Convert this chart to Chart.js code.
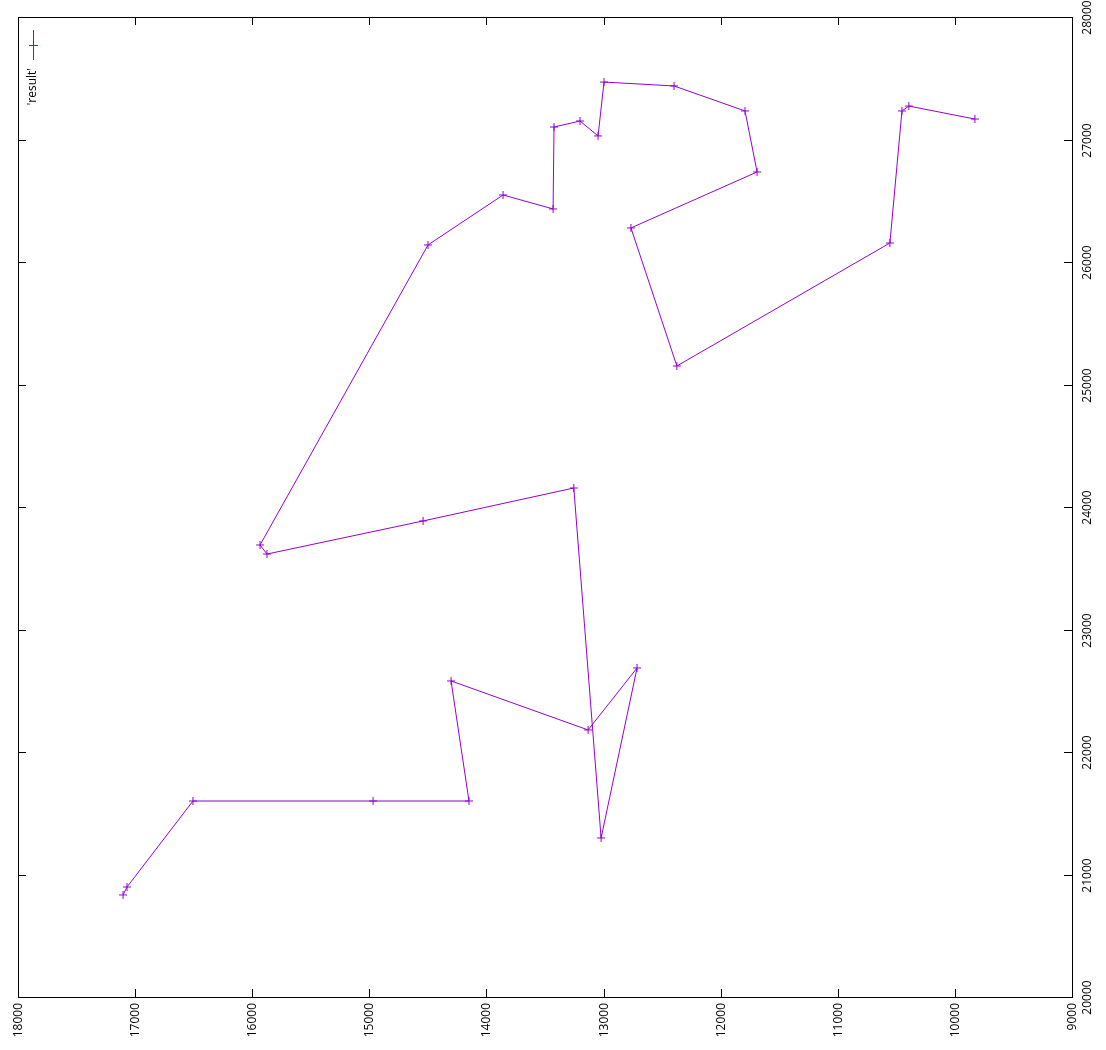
<!DOCTYPE html>
<html>
<head>
<meta charset="utf-8">
<script src="https://cdn.jsdelivr.net/npm/chart.js@4/dist/chart.umd.min.js"></script>
<style>
  html, body { margin: 0; padding: 0; background: #fff; }
  #wrap { width: 1106px; height: 1050px; }
</style>
</head>
<body>
<div id="wrap"><canvas id="chart"></canvas></div>
<script>
var xValues = [17103, 17069, 16506, 14968, 14149, 14302, 13132, 12714, 13021, 13254,
  14541, 15874, 15933, 14499, 13858, 13431, 13423, 13201, 13047, 12996,
  12398, 11792, 11689, 12766, 12374, 10555, 10452, 10393, 9829];
var yValues = [20833, 20898, 21600, 21600, 21600, 22580, 22180, 22686, 21298, 24155,
  23886, 23616, 23690, 26139, 26547, 26433, 27102, 27151, 27029, 27469,
  27437, 27233, 26735, 26278, 25151, 26155, 27233, 27273, 27167];
var xTicks = [18000, 17000, 16000, 15000, 14000, 13000, 12000, 11000, 10000, 9000];
var yTicks = [20000, 21000, 22000, 23000, 24000, 25000, 26000, 27000, 28000];
var seriesLabel = "'result'";
var purple = '#9400d3';

var points = xValues.map(function(x, i) { return { x: x, y: yValues[i] }; });

/* gnuplot-style frame, inward ticks and rotated labels */
var framePlugin = {
  id: 'frame',
  afterDraw: function(chart) {
    var ctx = chart.ctx, a = chart.chartArea;
    var xs = chart.scales.x, ys = chart.scales.y;
    ctx.save();
    ctx.strokeStyle = '#000';
    ctx.lineWidth = 1;
    ctx.strokeRect(a.left + 0.5, a.top + 0.5, a.right - a.left, a.bottom - a.top);
    ctx.fillStyle = '#000';
    ctx.font = "12px 'Open Sans', sans-serif";
    ctx.textBaseline = 'middle';
    ctx.textAlign = 'right';
    xTicks.forEach(function(v) {
      var px = Math.round(xs.getPixelForValue(v)) + 0.5;
      ctx.beginPath();
      ctx.moveTo(px, a.bottom); ctx.lineTo(px, a.bottom - 8);
      ctx.moveTo(px, a.top); ctx.lineTo(px, a.top + 8);
      ctx.stroke();
      ctx.save();
      ctx.translate(px, a.bottom + 6);
      ctx.rotate(-Math.PI / 2);
      ctx.fillText(String(v), 0, 0);
      ctx.restore();
    });
    ctx.textAlign = 'center';
    yTicks.forEach(function(v) {
      var py = Math.round(ys.getPixelForValue(v)) + 0.5;
      ctx.beginPath();
      ctx.moveTo(a.left, py); ctx.lineTo(a.left + 8, py);
      ctx.moveTo(a.right, py); ctx.lineTo(a.right - 8, py);
      ctx.stroke();
      ctx.save();
      ctx.translate(a.right + 16, py);
      ctx.rotate(-Math.PI / 2);
      ctx.fillText(String(v), 0, 0);
      ctx.restore();
    });
    /* legend */
    ctx.strokeStyle = purple;
    ctx.beginPath();
    ctx.moveTo(33.5, 30); ctx.lineTo(33.5, 60);
    ctx.moveTo(29, 45.5); ctx.lineTo(38, 45.5);
    ctx.stroke();
    ctx.fillStyle = '#000';
    ctx.save();
    ctx.translate(33, 68);
    ctx.rotate(-Math.PI / 2);
    ctx.textAlign = 'right';
    ctx.fillText(seriesLabel, 0, 0);
    ctx.restore();
    ctx.restore();
  }
};

new Chart(document.getElementById('chart'), {
  type: 'line',
  data: {
    datasets: [{
      label: seriesLabel,
      data: points,
      borderColor: purple,
      backgroundColor: purple,
      borderWidth: 1,
      pointStyle: 'cross',
      pointRadius: 4,
      pointBorderWidth: 1,
      tension: 0,
      fill: false
    }]
  },
  options: {
    responsive: true,
    maintainAspectRatio: false,
    animation: false,
    layout: { padding: { left: 18, top: 17, right: 34, bottom: 53 } },
    plugins: { legend: { display: false }, tooltip: { enabled: false } },
    scales: {
      x: {
        type: 'linear', reverse: true, min: 9000, max: 18000,
        ticks: { display: false },
        grid: { display: false, drawTicks: false },
        border: { display: false }
      },
      y: {
        type: 'linear', position: 'right', min: 20000, max: 28000,
        ticks: { display: false },
        grid: { display: false, drawTicks: false },
        border: { display: false }
      }
    }
  },
  plugins: [framePlugin]
});
</script>
</body>
</html>
